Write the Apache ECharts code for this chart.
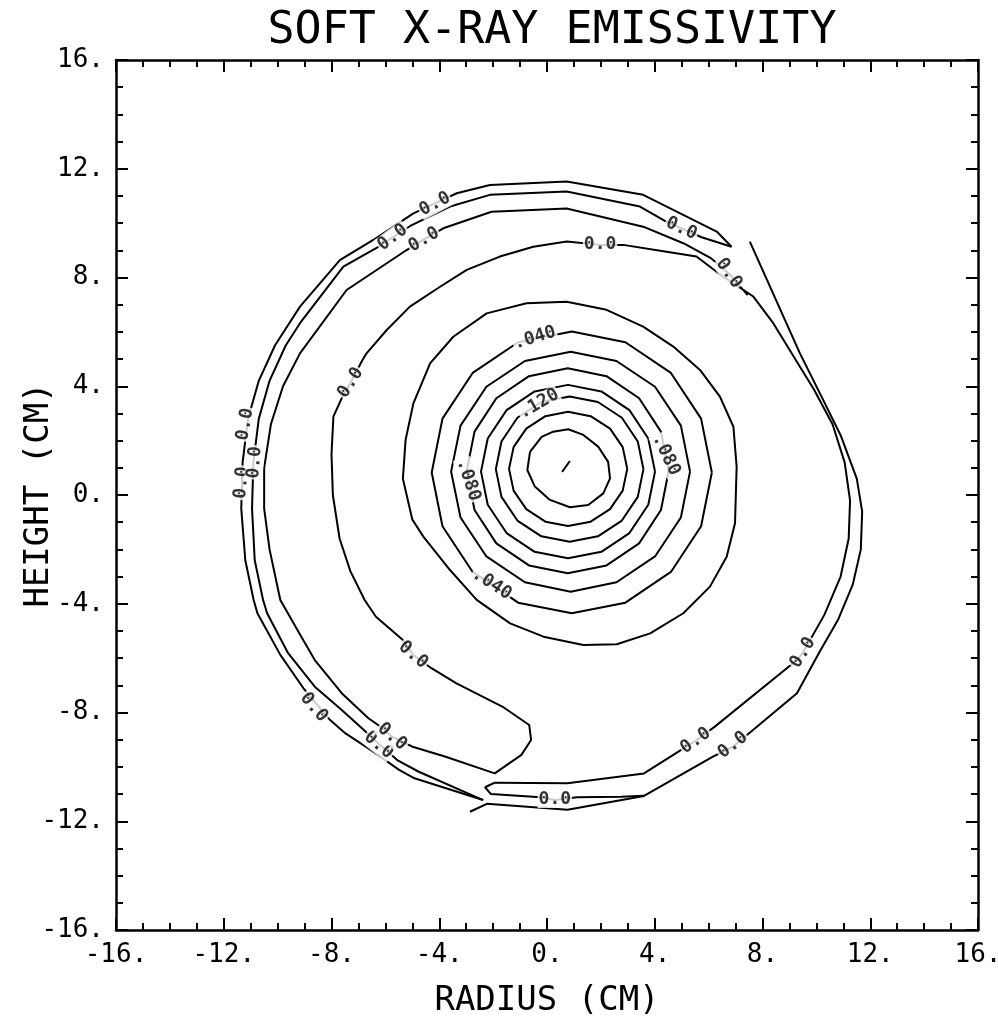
<!DOCTYPE html>
<html>
<head>
  <meta charset="UTF-8">
  <title>Soft X-Ray Emissivity</title>
  <style>
    html, body { margin: 0; padding: 0; background: #fff; }
    #chart { width: 998px; height: 1027px; }
  </style>
  <script src="https://cdn.jsdelivr.net/npm/echarts@6/dist/echarts.min.js"></script>
</head>
<body>
  <div id="chart"></div>
  <script>
    // contour lines, in cm (radius, height)
    const ring1 = [[-0.63,1.59],[-0.20,2.14],[0.23,2.33],[0.79,2.42],[1.35,2.21],[1.90,1.78],[2.27,1.22],[2.34,0.61],[2.09,0.06],[1.53,-0.37],[0.85,-0.45],[0.11,-0.18],[-0.45,0.31],[-0.73,0.92],[-0.63,1.59]];
    const ring2 = [[2.98,0.96],[2.81,1.76],[2.34,2.44],[1.62,2.90],[0.78,3.06],[-0.06,2.90],[-0.77,2.44],[-1.24,1.76],[-1.41,0.96],[-1.24,0.16],[-0.77,-0.52],[-0.06,-0.98],[0.78,-1.14],[1.62,-0.98],[2.34,-0.52],[2.81,0.16],[2.98,0.96]];
    const ring3 = [[3.58,0.95],[3.37,1.97],[2.78,2.84],[1.89,3.42],[0.84,3.62],[-0.21,3.42],[-1.10,2.84],[-1.69,1.97],[-1.90,0.95],[-1.69,-0.07],[-1.10,-0.94],[-0.21,-1.52],[0.84,-1.72],[1.89,-1.52],[2.78,-0.94],[3.37,-0.07],[3.58,0.95]];
    const ring4 = [[4.01,0.86],[3.76,2.08],[3.06,3.12],[2.02,3.81],[0.78,4.05],[-0.46,3.81],[-1.50,3.12],[-2.20,2.08],[-2.45,0.86],[-2.20,-0.36],[-1.50,-1.40],[-0.46,-2.09],[0.78,-2.33],[2.02,-2.09],[3.06,-1.40],[3.76,-0.36],[4.01,0.86]];
    const ring5 = [[4.52,0.89],[4.23,2.33],[3.42,3.56],[2.21,4.37],[0.77,4.66],[-0.67,4.37],[-1.88,3.56],[-2.69,2.33],[-2.98,0.89],[-2.69,-0.55],[-1.88,-1.78],[-0.67,-2.59],[0.77,-2.88],[2.21,-2.59],[3.42,-1.78],[4.23,-0.55],[4.52,0.89]];
    const ring6 = [[5.31,0.86],[4.97,2.55],[4.01,3.98],[2.58,4.93],[0.88,5.27],[-0.82,4.93],[-2.25,3.98],[-3.21,2.55],[-3.56,0.86],[-3.21,-0.83],[-2.25,-2.26],[-0.82,-3.21],[0.88,-3.56],[2.58,-3.21],[4.01,-2.26],[4.97,-0.83],[5.31,0.86]];
    const ring7 = [[6.12,0.83],[5.72,2.81],[4.60,4.49],[2.91,5.62],[0.92,6.01],[-1.07,5.62],[-2.76,4.49],[-3.88,2.81],[-4.28,0.83],[-3.88,-1.15],[-2.76,-2.83],[-1.07,-3.96],[0.92,-4.35],[2.91,-3.96],[4.60,-2.83],[5.72,-1.15],[6.12,0.83]];
    const ring8 = [[7.04,1.04],[6.92,2.51],[6.42,3.62],[5.68,4.60],[4.69,5.46],[3.57,6.19],[2.21,6.81],[0.73,7.11],[-0.76,7.05],[-2.24,6.68],[-3.48,5.82],[-4.34,4.84],[-4.96,3.37],[-5.25,2.02],[-5.35,0.6],[-5.0,-0.9],[-4.59,-1.53],[-3.60,-2.76],[-2.61,-3.86],[-1.37,-4.72],[-0.13,-5.21],[1.35,-5.52],[2.59,-5.49],[3.83,-5.09],[5.06,-4.35],[6.05,-3.37],[6.67,-2.27],[6.98,-1.04],[7.04,1.04]];
    const centerTick = [[0.56,0.85],[0.85,1.25]];

    const zeroA = [[6.85,9.13],[6.30,9.69],[3.57,11.04],[0.73,11.53],[-2.12,11.40],[-3.35,11.10],[-4.96,10.36],[-6.45,9.38],[-7.69,8.64],[-9.17,6.93],[-10.1,5.5],[-10.7,4.2],[-11.1,2.8],[-11.3,1.2],[-11.35,-0.5],[-11.2,-2.4],[-10.89,-3.86],[-10.75,-4.35],[-9.90,-5.88],[-9.04,-7.11],[-8.05,-8.28],[-7.48,-8.77],[-6.63,-9.32],[-5.49,-10.11],[-4.92,-10.42],[-2.37,-11.22]];
    const zeroB = [[6.85,9.13],[5.74,9.48],[4.44,10.05],[3.45,10.61],[0.73,11.16],[-2.12,11.04],[-3.60,10.61],[-5.02,9.93],[-6.26,9.13],[-7.56,8.40],[-9.17,6.32],[-9.7,5.5],[-10.3,4.2],[-10.7,2.8],[-10.9,1.2],[-10.95,-0.5],[-10.85,-2.4],[-10.54,-3.86],[-10.39,-4.35],[-9.61,-5.82],[-8.62,-7.05],[-7.62,-7.91],[-6.9,-8.55],[-6.25,-9.15],[-5.56,-9.75],[-4.78,-10.17],[-2.37,-11.22]];
    const zeroC = [[7.45,7.35],[7.1,7.75],[6.75,8.15],[6.1,8.7],[5.06,9.26],[3.57,9.87],[0.73,10.54],[-2.06,10.42],[-3.85,9.81],[-4.57,9.4],[-5.21,9.01],[-7.44,7.54],[-9.17,5.21],[-9.8,4.0],[-10.25,2.6],[-10.5,1.0],[-10.5,-0.5],[-10.3,-2.0],[-9.90,-3.86],[-9.19,-5.09],[-8.62,-6.07],[-7.62,-7.29],[-6.63,-8.21],[-6.27,-8.46],[-5.75,-8.89],[-4.99,-9.26],[-3.79,-9.62],[-1.94,-10.24],[-0.95,-9.56],[-0.59,-9.01],[-0.66,-8.46],[-1.66,-7.78],[-3.36,-6.93],[-4.29,-6.37],[-4.97,-5.88],[-5.35,-5.33],[-6.35,-4.48],[-6.77,-3.86],[-7.3,-2.8],[-7.7,-1.6],[-7.95,0],[-8.0,1.5],[-7.93,2.88],[-7.62,3.56],[-7.29,4.13],[-6.88,4.91],[-6.70,5.21],[-5.95,6.07],[-5.09,6.93],[-3.97,7.66],[-2.98,8.28],[-1.75,8.77],[-0.51,9.13],[0.73,9.32],[1.97,9.2],[2.83,9.20],[4.44,8.95],[5.55,8.77],[6.54,8.03],[7.66,7.30],[8.40,6.32],[9.39,4.72],[9.9,3.9],[10.6,2.6],[11.05,1.2],[11.25,-0.2],[11.2,-1.6],[10.9,-3.0],[10.3,-4.4],[9.5,-5.8],[9.28,-6.07],[6.23,-8.52],[5.52,-9.04],[4.88,-9.44],[3.60,-10.24],[0.76,-10.60],[-1.94,-10.58],[-2.30,-10.75],[-2.08,-11.00],[-0.24,-11.12],[0.29,-11.22],[1.11,-11.12],[2.75,-11.10],[3.60,-11.06]];
    const zeroOuter = [[7.53,9.32],[9.39,5.21],[10.2,3.6],[10.9,2.2],[11.5,0.6],[11.7,-0.6],[11.65,-2.0],[11.35,-3.3],[10.8,-4.6],[10.1,-5.8],[9.28,-7.29],[7.58,-8.70],[6.90,-9.26],[6.16,-9.62],[3.60,-11.07],[0.76,-11.58],[-2.23,-11.36],[-2.86,-11.65]];

    // contour labels
    const labelText  = ['.120','.080','.080','.040','.040','0.0','0.0','0.0','0.0','0.0','0.0','0.0','0.0','0.0','0.0','0.0','0.0','0.0','0.0','0.0','0.0','0.0','0.0'];
    const labelX     = [-0.30,-2.92,4.42,-0.45,-2.05,-7.29,1.97,-4.16,-5.73,-4.57,4.99,6.75,-11.2,-11.33,-10.85,-8.66,-6.25,-5.75,-4.97,0.29,5.52,6.90,9.5];
    const labelY     = [3.35,0.55,1.47,5.78,-3.28,4.13,9.22,10.7,9.47,9.39,9.8,8.15,2.6,0.45,1.2,-7.81,-9.2,-8.89,-5.88,-11.18,-9.04,-9.2,-5.8];
    const labelAngle = [30,-72,-65,17,-33,57,0,28,37,30,-25,-55,80,85,85,-50,-40,-40,-40,0,35,38,58];

    const axisTicks = [-16,-12,-8,-4,0,4,8,12,16];

    const FONT = "'DejaVu Sans Mono', monospace";
    const chart = echarts.init(document.getElementById('chart'));

    const contours = [ring1, ring2, ring3, ring4, ring5, ring6, ring7, ring8, centerTick, zeroA, zeroB, zeroC, zeroOuter];
    const series = contours.map(function (pts) {
      return {
        type: 'line', data: pts, showSymbol: false, symbol: 'none', smooth: false,
        lineStyle: { color: '#000', width: 2 }, z: 2, silent: true
      };
    });
    series.push({
      type: 'scatter', z: 5, symbolSize: 0, silent: true,
      itemStyle: { color: '#000' },
      label: {
        show: true, position: 'inside', color: '#000', fontFamily: FONT, fontSize: 18,
        fontWeight: 'bold', textBorderWidth: 0, backgroundColor: '#fff', padding: [0, 1]
      },
      data: labelX.map(function (x, i) {
        return { value: [x, labelY[i]], label: { formatter: labelText[i], rotate: labelAngle[i] } };
      })
    });

    function axisBase(pos, showLabel) {
      return {
        type: 'value', position: pos, min: axisTicks[0], max: axisTicks[axisTicks.length - 1], interval: 4,
        axisLine: { show: true, onZero: false, lineStyle: { color: '#000', width: 2.5 } },
        axisTick: { show: true, inside: true, length: 12, lineStyle: { color: '#000', width: 2 } },
        minorTick: { show: true, splitNumber: 4, length: 7, lineStyle: { color: '#000', width: 2 } },
        splitLine: { show: false },
        axisLabel: {
          show: showLabel, color: '#000', fontFamily: FONT, fontSize: 26,
          formatter: function (v) { return v + '.'; }
        }
      };
    }

    const xMain = axisBase('bottom', true);
    xMain.name = 'RADIUS (CM)';
    xMain.nameLocation = 'middle';
    xMain.nameGap = 54;
    xMain.nameMoveOverlap = false;
    xMain.nameTextStyle = { color: '#000', fontFamily: FONT, fontSize: 34 };
    xMain.axisLabel.margin = 12;

    const yMain = axisBase('left', true);
    yMain.name = 'HEIGHT (CM)';
    yMain.nameLocation = 'middle';
    yMain.nameGap = 60;
    yMain.nameMoveOverlap = false;
    yMain.nameTextStyle = { color: '#000', fontFamily: FONT, fontSize: 34 };
    yMain.axisLabel.margin = 12;

    chart.setOption({
      animation: false,
      backgroundColor: '#fff',
      title: {
        text: 'SOFT X-RAY EMISSIVITY', left: 547, top: 4, textAlign: 'center',
        textStyle: { color: '#000', fontFamily: FONT, fontSize: 45, fontWeight: 'normal' }
      },
      grid: { left: 116, right: 20, top: 60, bottom: 97, containLabel: false, outerBoundsMode: 'none' },
      xAxis: [xMain, axisBase('top', false)],
      yAxis: [yMain, axisBase('right', false)],
      series: series
    });
  </script>
</body>
</html>
